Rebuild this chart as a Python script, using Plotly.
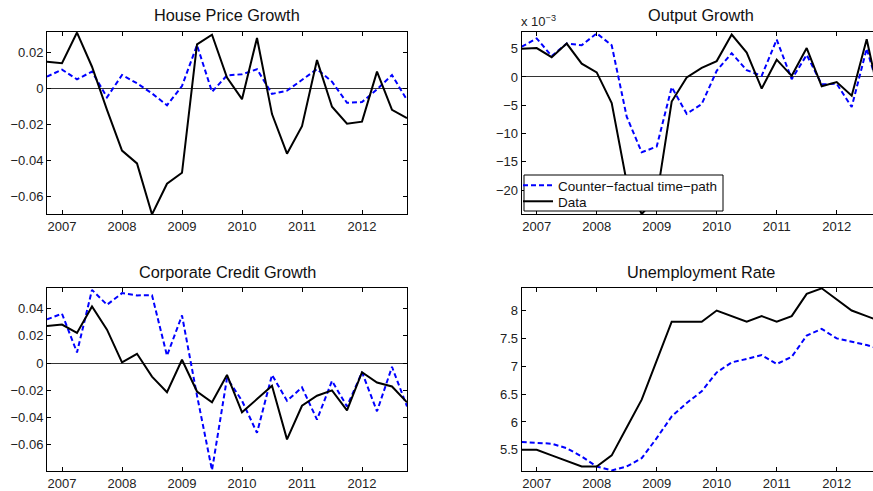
import plotly.graph_objects as go

# quarterly dates 2006Q4 .. 2012Q4
quarters = [2006.75 + 0.25 * i for i in range(25)]
year_ticks = [2007, 2008, 2009, 2010, 2011, 2012]

house_data = [0.0148, 0.014, 0.031, 0.012, -0.012, -0.0346, -0.0417, -0.070, -0.053, -0.0469,
              0.0244, 0.0298, 0.006, -0.006, 0.028, -0.0143, -0.0363, -0.021, 0.0157, -0.0102,
              -0.0196, -0.0185, 0.0093, -0.0119, -0.0165]
house_cf = [0.0065, 0.0104, 0.005, 0.0093, -0.005, 0.0074, 0.0028, -0.0028, -0.0094, 0.0013,
            0.024, -0.0019, 0.0072, 0.0078, 0.0106, -0.0031, -0.0013, 0.0046, 0.0107, 0.0037,
            -0.008, -0.0076, -0.0006, 0.0074, -0.0065]

output_data = [5.0, 5.1, 3.5, 5.9, 2.35, 0.8, -4.6, -18.6, -24.2, -21.3,
               -4.35, -0.1, 1.6, 2.8, 7.5, 4.3, -2.05, 3.05, 0.2, 5.1,
               -1.65, -0.9, -3.3, 6.65, -5.5]
output_cf = [5.35, 6.8, 3.7, 5.9, 5.6, 7.7, 5.6, -7.0, -13.3, -12.3,
             -1.8, -6.5, -4.8, 1.1, 4.2, 1.2, 0.2, 6.6, -0.4, 3.9,
             -1.3, -1.2, -5.3, 5.0, -4.0]

credit_data = [0.0273, 0.0283, 0.0222, 0.0417, 0.0246, 0.0005, 0.0068, -0.010, -0.0215, 0.0024,
               -0.021, -0.029, -0.0088, -0.0363, -0.0266, -0.0168, -0.0563, -0.0315, -0.0241, -0.0202,
               -0.0349, -0.0068, -0.0144, -0.0173, -0.029]
credit_cf = [0.0322, 0.0363, 0.0078, 0.0539, 0.0429, 0.0515, 0.0498, 0.050, 0.0054, 0.0351,
             -0.024, -0.079, -0.0112, -0.0278, -0.0515, -0.0088, -0.0278, -0.018, -0.0417, -0.0132,
             -0.032, -0.0068, -0.0356, -0.0029, -0.032]

unemp_data = [5.5, 5.5, 5.4, 5.3, 5.2, 5.2, 5.4, 5.9, 6.4, 7.1,
              7.8, 7.8, 7.8, 8.0, 7.9, 7.8, 7.9, 7.8, 7.9, 8.3,
              8.4, 8.2, 8.0, 7.9, 7.8]
unemp_cf = [5.64, 5.63, 5.61, 5.53, 5.38, 5.2, 5.13, 5.2, 5.35, 5.71,
            6.1, 6.34, 6.55, 6.89, 7.07, 7.13, 7.2, 7.04, 7.17, 7.55,
            7.67, 7.5, 7.44, 7.38, 7.3]

titles = ["House Price Growth", "Output Growth", "Corporate Credit Growth", "Unemployment Rate"]
cf_name = "Counter\u2212factual time\u2212path"
data_name = "Data"

W, H = 873, 491
BLUE = "#0000ff"
FONT = "Liberation Sans, Arial, Helvetica, sans-serif"

panels = [
    dict(cf=house_cf, data=house_data, xa="x", ya="y", xdom=(47, 407), ydom=(32, 214),
         xr=[2006.75, 2012.75], yr=[-0.0698, 0.0313], dt=0.02, right=False),
    dict(cf=output_cf, data=output_data, xa="x2", ya="y2", xdom=(521.7, 873), ydom=(32, 214),
         xr=[2006.75, 2012.605], yr=[-24.2, 7.94], dt=5, right=True),
    dict(cf=credit_cf, data=credit_data, xa="x3", ya="y3", xdom=(47, 407), ydom=(287.7, 471),
         xr=[2006.75, 2012.75], yr=[-0.0796, 0.0555], dt=0.02, right=False),
    dict(cf=unemp_cf, data=unemp_data, xa="x4", ya="y4", xdom=(521.7, 873), ydom=(287.7, 471),
         xr=[2006.75, 2012.605], yr=[5.12, 8.41], dt=0.5, right=True),
]

fig = go.Figure()
layout = {}
for k, p in enumerate(panels):
    fig.add_trace(go.Scatter(x=quarters, y=p["cf"], xaxis=p["xa"], yaxis=p["ya"], mode="lines",
                             name=cf_name, showlegend=(k == 1), legend="legend",
                             line=dict(color=BLUE, width=2, dash="5px,3px")))
    fig.add_trace(go.Scatter(x=quarters, y=p["data"], xaxis=p["xa"], yaxis=p["ya"], mode="lines",
                             name=data_name, showlegend=(k == 1), legend="legend2",
                             line=dict(color="black", width=2)))
    suffix = "" if k == 0 else str(k + 1)
    layout["xaxis" + suffix] = dict(
        domain=[p["xdom"][0] / W, p["xdom"][1] / W], range=p["xr"], anchor=p["ya"],
        tickvals=year_ticks, ticks="inside", ticklen=4, tickcolor="black",
        showline=True, linecolor="black", linewidth=1, mirror="ticks",
        showgrid=False, zeroline=False, tickfont=dict(size=13, color="#222"))
    layout["yaxis" + suffix] = dict(
        domain=[1 - p["ydom"][1] / H, 1 - p["ydom"][0] / H], range=p["yr"], anchor=p["xa"],
        dtick=p["dt"], ticks="inside", ticklen=4, tickcolor="black",
        showline=True, linecolor="black", linewidth=1,
        mirror=False if p["right"] else "ticks",
        showgrid=False, zeroline=True, zerolinecolor="#333", zerolinewidth=1,
        tickfont=dict(size=13, color="#222"))

annotations = []
title_pos = [(227, 15), (701, 15), (227, 272), (701, 272)]
for t, (cx, cy) in zip(titles, title_pos):
    annotations.append(dict(text=t, x=cx / W, y=1 - cy / H, xref="paper", yref="paper",
                            xanchor="center", yanchor="middle", showarrow=False,
                            font=dict(size=16.3, color="#111")))
annotations.append(dict(text="x 10<sup>\u22123</sup>", x=519 / W, y=1 - 31 / H, xref="paper",
                        yref="paper", xanchor="left", yanchor="bottom", showarrow=False,
                        font=dict(size=13, color="#222")))

# legend frame (the legend entries themselves are Plotly legends)
legend_box = dict(type="rect", xref="paper", yref="paper", layer="above",
                  x0=524 / W, x1=723 / W, y0=1 - 211 / H, y1=1 - 175 / H,
                  fillcolor="white", line=dict(color="black", width=1))

leg_common = dict(xanchor="left", yanchor="top", bgcolor="rgba(0,0,0,0)", borderwidth=0,
                  font=dict(size=13.5, color="#111"), itemwidth=30, tracegroupgap=0)

fig.update_layout(
    width=W, height=H, margin=dict(l=0, r=0, t=0, b=0),
    paper_bgcolor="white", plot_bgcolor="white",
    font=dict(family=FONT, size=13, color="#222"),
    legend=dict(x=518 / W, y=1 - 170 / H, **leg_common),
    legend2=dict(x=518 / W, y=1 - 186 / H, **leg_common),
    shapes=[legend_box],
    annotations=annotations,
    **layout,
)

fig.write_html("out.html", config={"displayModeBar": False},
               post_script="document.body.style.margin='0';document.body.style.padding='0';")
